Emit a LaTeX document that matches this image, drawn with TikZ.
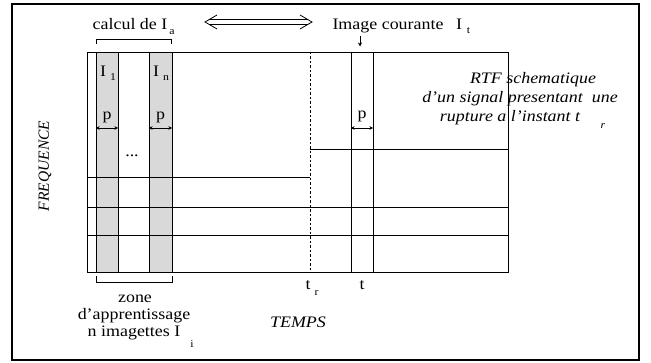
\documentclass[tikz,border=0pt]{standalone}
\usepackage{fontspec}
\setmainfont[FakeStretch=1.12]{Liberation Serif}
\newfontfamily\plainserif{Liberation Serif}
\usetikzlibrary{arrows.meta}
\definecolor{stripgray}{RGB}{217,217,217}
\begin{document}
\begin{tikzpicture}[x=1pt,y=-1pt,
  lbl/.style={inner sep=0pt, anchor=base, font=\fontsize{16}{18}\selectfont},
  ilbl/.style={inner sep=0pt, anchor=base, font=\fontsize{16}{18}\selectfont\itshape},
  sublbl/.style={inner sep=0pt, anchor=base, font=\fontsize{10.5}{12}\selectfont},
  isublbl/.style={inner sep=0pt, anchor=base, font=\fontsize{10.5}{12}\selectfont\itshape},
  gridline/.style={line width=0.9pt},
  bracket/.style={line width=0.9pt},
  dimarrow/.style={line width=0.6pt, {Stealth[length=3.5pt,width=3.5pt]}-{Stealth[length=3.5pt,width=3.5pt]}},
  pointer/.style={line width=0.8pt, -{Stealth[length=4pt,width=4pt]}}]
\useasboundingbox (0,0) rectangle (651,363);
% outer frame
\draw[line width=2pt] (12,4) rectangle (639,360);

% learning strips
\fill[stripgray] (96,52) rectangle (118,272);
\fill[stripgray] (149,52) rectangle (172,272);

% time-frequency plane: spectral lines with the break at t_r
\draw[gridline] (87,177) -- (310,177);
\draw[gridline] (310,149) -- (508,149);
\draw[gridline] (87,207) -- (508,207);
\draw[gridline] (87,235) -- (508,235);

% strip borders
\foreach \xx in {96,118,149,172,351,373}
  \draw[gridline] (\xx,52) -- (\xx,272);

% instant of the break
\draw[line width=0.8pt, dash pattern=on 2.5pt off 2pt] (310,52) -- (310,272);

% plane border
\draw[gridline] (87,52) rectangle (508,272);

% bracket over the learning zone
\draw[bracket] (96,44) -- (96,39) -- (171,39) -- (171,44);
\node[lbl] (calc) at (130,30) {calcul de I};
\node[sublbl] (calca) at (172,35) {a};

% double-headed arrow
\coordinate (dl) at (205,22);
\coordinate (dr) at (312,22);
\draw[line width=0.8pt] (217,15) -- (dl) -- (217,29);
\draw[line width=0.8pt] (300,15) -- (dr) -- (300,29);
\draw[line width=0.8pt] (209,19.8) -- (308,19.8);
\draw[line width=0.8pt] (209,24.2) -- (308,24.2);

% current image
\node[lbl] (cour) at (388,30) {Image courante};
\node[lbl] (courI) at (459,30) {I};
\node[sublbl] (court) at (468.5,34) {t};
\coordinate (ptop) at (360,36);
\coordinate (pbot) at (360,46.5);
\draw[pointer] (ptop) -- (pbot);

% strip labels
\node[lbl] (i1) at (103,77) {I};
\node[sublbl] (i1s) at (113,81) {1};
\node[lbl] (in) at (156,77) {I};
\node[sublbl] (ins) at (166,81) {n};
\node[lbl] (p1) at (107,120) {p};
\node[lbl] (p2) at (160.5,120) {p};
\node[lbl] (p3) at (362,119) {p};
\coordinate (a1l) at (96,128); \coordinate (a1r) at (118,128);
\coordinate (a2l) at (149,128); \coordinate (a2r) at (172,128);
\coordinate (a3l) at (351,128); \coordinate (a3r) at (373,128);
\draw[dimarrow] (a1l) -- (a1r);
\draw[dimarrow] (a2l) -- (a2r);
\draw[dimarrow] (a3l) -- (a3r);
\node[lbl] (dots) at (132,157) {...};

% caption of the plane
\node[ilbl] (rtf1) at (533,84) {RTF schematique};
\node[ilbl] (rtf2) at (520,103) {d'un signal presentant \ une};
\node[ilbl] (rtf3) at (510,122) {rupture a l'instant t};
\node[isublbl] (rtf3r) at (603,129) {r};

% axes
\node[inner sep=0pt, rotate=90, font=\plainserif\fontsize{15.5}{17}\selectfont\itshape] (freq) at (45,166) {FREQUENCE};
\node[ilbl] (temps) at (298,328) {TEMPS};
\node[lbl] (tr) at (308,290) {t};
\node[sublbl] (trs) at (316.5,296) {r};
\node[lbl] (t) at (362,290) {t};

% bracket under the learning zone
\draw[bracket] (96,276) -- (96,282) -- (172,282) -- (172,276);
\node[lbl] (zone) at (135,303) {zone};
\node[lbl] (appr) at (134,320) {d'apprentissage};
\node[lbl] (imag) at (134,337) {n imagettes I};
\node[sublbl] (imags) at (192,348) {i};
\end{tikzpicture}
\end{document}
